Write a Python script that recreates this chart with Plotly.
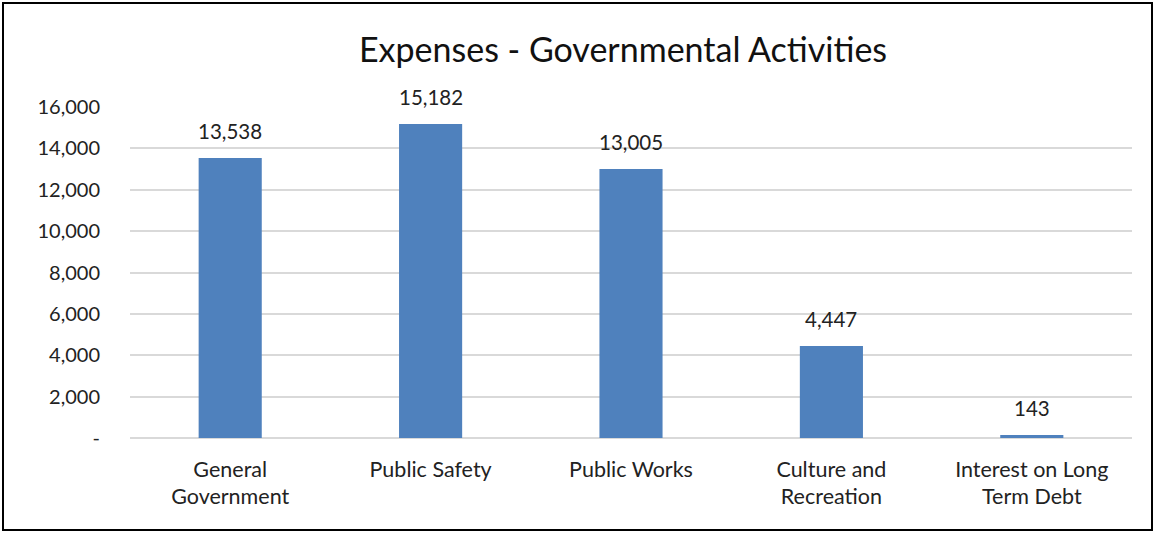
import plotly.graph_objects as go

categories = ["General<br>Government", "Public Safety", "Public Works", "Culture and<br>Recreation", "Interest on Long<br>Term Debt"]
values = [13538, 15182, 13005, 4447, 143]
tick_vals = [0, 2000, 4000, 6000, 8000, 10000, 12000, 14000, 16000]
tick_text = ["-", "2,000", "4,000", "6,000", "8,000", "10,000", "12,000", "14,000", "16,000"]

W, H = 1155, 533
L, R, T, B = 130, 23, 107, 95
pw, ph = W - L - R, H - T - B

def px_x(p):
    return (p - L) / pw

def px_y(p):
    return (H - B - p) / ph

font = "Lato, 'Open Sans', sans-serif"

fig = go.Figure(go.Bar(
    x=categories, y=values,
    marker=dict(color="#4F81BD", line=dict(width=0)),
    width=0.315,
    hoverinfo="x+y",
))

for c, v in zip(categories, values):
    fig.add_annotation(x=c, y=v, text=f"{v:,}", showarrow=False,
                       yanchor="middle", yshift=27,
                       font=dict(size=20.5, color="#222222", family=font))

fig.update_layout(
    width=W, height=H,
    margin=dict(l=L, r=R, t=T, b=B),
    paper_bgcolor="white", plot_bgcolor="white",
    title=dict(text="Expenses - Governmental Activities", xref="container", x=623 / W,
               xanchor="center", y=1 - 50 / H, yanchor="middle",
               font=dict(size=34, color="#111111", family=font)),
    font=dict(family=font, size=20, color="#222222"),
    showlegend=False,
    xaxis=dict(showgrid=False, showline=False, ticks="", tickfont=dict(size=21.5),
               ticklabelstandoff=16),
    yaxis=dict(range=[0, 16000], tickvals=tick_vals, ticktext=tick_text,
               showgrid=True, gridcolor="#D9D9D9", gridwidth=1.5,
               zeroline=True, zerolinecolor="#D9D9D9", zerolinewidth=1.5,
               showline=False, ticks="", tickfont=dict(size=20), ticklabelstandoff=29),
    shapes=[dict(type="rect", xref="paper", yref="paper",
                 x0=px_x(3), x1=px_x(1152), y0=px_y(530), y1=px_y(3),
                 line=dict(color="#000000", width=2), fillcolor="rgba(0,0,0,0)", layer="below")],
)

fig.write_html("out.html")
